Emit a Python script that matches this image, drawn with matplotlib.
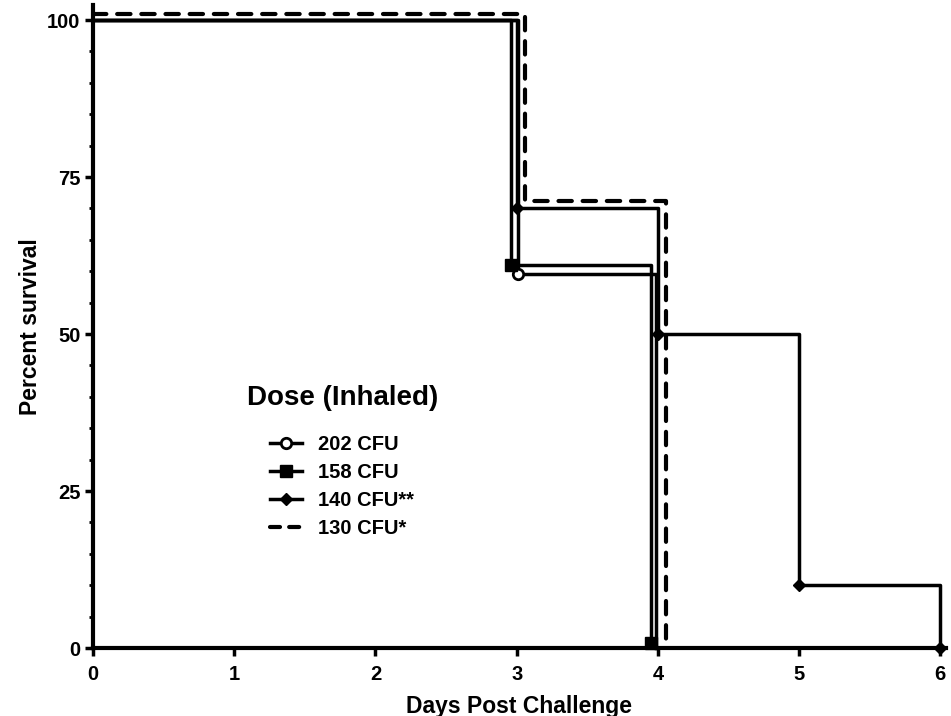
import matplotlib
matplotlib.use("Agg")
import matplotlib.pyplot as plt
from matplotlib.lines import Line2D

plt.rcParams['font.family'] = ['Liberation Sans', 'DejaVu Sans']
plt.rcParams['font.weight'] = 'bold'

# survival steps per dose group (day of event, percent surviving after it)
days_202 = [0, 3.01, 3.99]
surv_202 = [100, 59.5, 0]
days_158 = [0, 2.96, 3.95]
surv_158 = [100, 61, 0.8]
days_140 = [0, 3.0, 4.0, 5.0, 6.0]
surv_140 = [100, 70, 50, 10, 0]
days_130 = [0, 3.06, 4.06]
surv_130 = [101, 71.2, 0]

labels = ['202 CFU', '158 CFU', '140 CFU**', '130 CFU*']
x_ticks = [0, 1, 2, 3, 4, 5, 6]
y_ticks = [0, 25, 50, 75, 100]

lw = 2.5
fig = plt.figure(figsize=(9.51, 7.16), dpi=100)
ax = fig.add_axes([93 / 951, 1 - 648 / 716, (946 - 93) / 951, (648 - 5) / 716])

ax.step(days_202, surv_202, where='post', color='black', lw=lw, clip_on=False)
ax.plot(days_202[1:2], surv_202[1:2], 'o', mfc='white', mec='black', mew=2, ms=7.5, clip_on=False, zorder=4)

ax.step(days_158, surv_158, where='post', color='black', lw=lw, clip_on=False)
ax.plot(days_158[1:], surv_158[1:], 's', color='black', ms=8, clip_on=False, zorder=4)

ax.step(days_140, surv_140, where='post', color='black', lw=lw, clip_on=False)
ax.plot(days_140[1:], surv_140[1:], 'D', color='black', ms=6, clip_on=False, zorder=4)

ax.step(days_130, surv_130, where='post', color='black', lw=lw + 0.5, clip_on=False,
        dashes=(3.2, 2.6), dash_capstyle='round', zorder=5)

ax.set_xlim(0, 6.04)
ax.set_ylim(0, 102.4)
ax.set_xticks(x_ticks)
ax.set_yticks(y_ticks)
ax.set_yticks(range(0, 101, 5), minor=True)
ax.tick_params(axis='both', which='major', labelsize=14.5, length=6, width=2.5, direction='out')
ax.tick_params(axis='x', which='major', pad=6)
ax.tick_params(axis='y', which='major', pad=3)
ax.tick_params(axis='y', which='minor', length=3, width=2)
for side in ['top', 'right']:
    ax.spines[side].set_visible(False)
for side in ['left', 'bottom']:
    ax.spines[side].set_linewidth(3)

ax.set_xlabel('Days Post Challenge', fontsize=16.5, fontweight='bold', labelpad=8)
ax.set_ylabel('Percent survival', fontsize=16.5, fontweight='bold', labelpad=4)

fig.text(247 / 951, 1 - 398 / 716, 'Dose (Inhaled)', fontsize=20, fontweight='bold', va='center', ha='left')

handles = [
    Line2D([], [], color='black', lw=lw, marker='o', mfc='white', mec='black', mew=2, ms=7.5),
    Line2D([], [], color='black', lw=lw, marker='s', ms=8),
    Line2D([], [], color='black', lw=lw, marker='D', ms=6),
    Line2D([], [], color='black', lw=lw + 0.5, dashes=(2.4, 2.2), dash_capstyle='round'),
]
fig.legend(handles, labels, loc='upper left', bbox_to_anchor=(270 / 951, 1 - 435 / 716),
           bbox_transform=fig.transFigure, frameon=False, borderpad=0, borderaxespad=0,
           handlelength=1.6, handletextpad=0.8, labelspacing=0.45,
           prop={'size': 14.5, 'weight': 'bold'})

plt.savefig('out.png', dpi=100)
